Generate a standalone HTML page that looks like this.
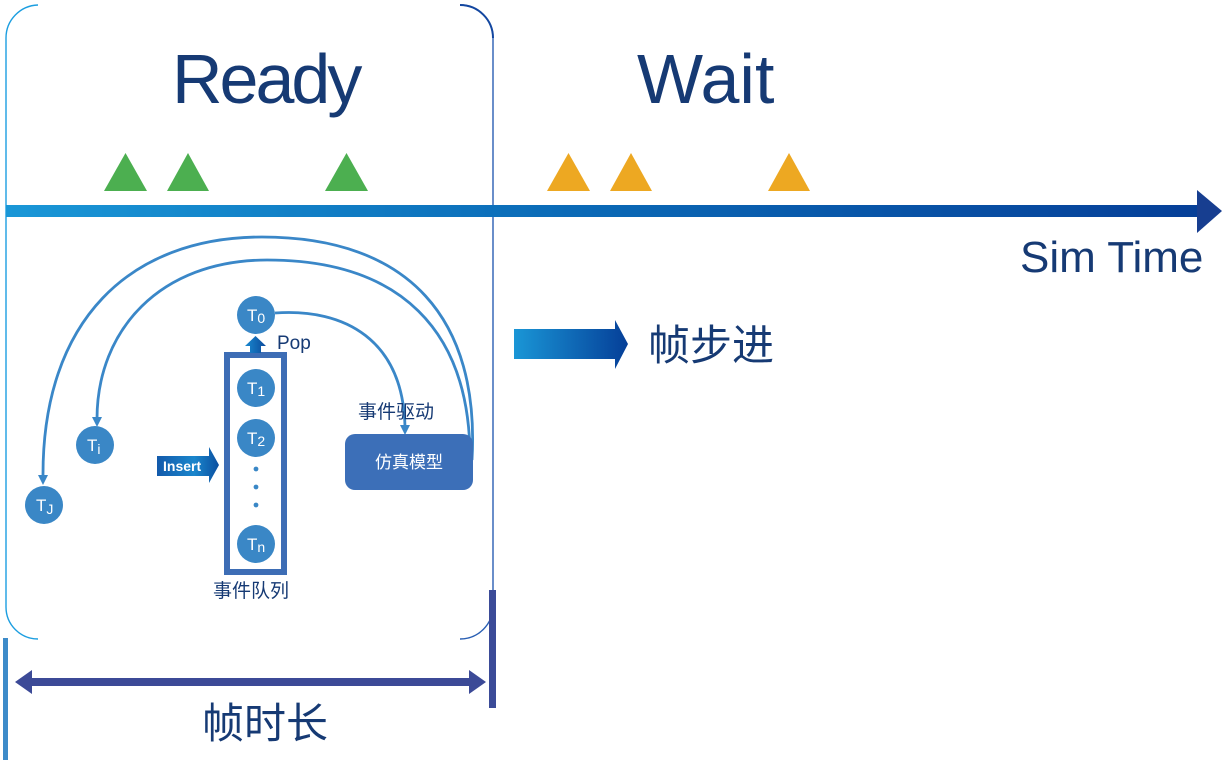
<!DOCTYPE html>
<html>
<head>
<meta charset="utf-8">
<style>
html,body{margin:0;padding:0;background:#fff;}
svg{display:block;}
text{font-family:"Liberation Sans","Noto Sans CJK SC",sans-serif;}
</style>
</head>
<body>
<svg width="1228" height="760" viewBox="0 0 1228 760" xmlns="http://www.w3.org/2000/svg">
<defs>
<linearGradient id="tl" x1="0" y1="0" x2="1" y2="0">
<stop offset="0" stop-color="#1a97d7"/>
<stop offset="0.45" stop-color="#0b6cb8"/>
<stop offset="1" stop-color="#063f98"/>
</linearGradient>
<linearGradient id="bx" x1="0" y1="0" x2="1" y2="0">
<stop offset="0" stop-color="#1c9ee0"/>
<stop offset="1" stop-color="#1d54a8"/>
</linearGradient>
<linearGradient id="step" x1="0" y1="0" x2="1" y2="0">
<stop offset="0" stop-color="#1a96d6"/>
<stop offset="1" stop-color="#053f98"/>
</linearGradient>
<linearGradient id="ins" x1="0" y1="0" x2="1" y2="0">
<stop offset="0" stop-color="#135aab"/>
<stop offset="0.6" stop-color="#1a86cc"/>
<stop offset="1" stop-color="#0b4fa0"/>
</linearGradient>
<linearGradient id="pop" x1="0" y1="0" x2="1" y2="0">
<stop offset="0" stop-color="#1a8ad0"/>
<stop offset="1" stop-color="#0b4a9c"/>
</linearGradient>
</defs>

<!-- Ready box (sides and corners only) -->
<path d="M38 5 A33 33 0 0 0 6 38 L6 607 A32 32 0 0 0 38 639" fill="none" stroke="#1c9ee0" stroke-width="1.4"/>
<path d="M460 5 A33 33 0 0 1 493 38 L493 606 A33 33 0 0 1 460 639" fill="none" stroke="#2a5fb3" stroke-width="1.4"/>
<path d="M460 5 A33 33 0 0 1 493 38" fill="none" stroke="#1347a0" stroke-width="2"/>

<!-- titles -->
<text x="172" y="103" font-size="70" fill="#163a74" letter-spacing="-3">Ready</text>
<text x="637" y="103" font-size="70" fill="#163a74">Wait</text>

<!-- green triangles -->
<polygon points="104,191 125.5,153 147,191" fill="#4caf50"/>
<polygon points="167,191 188,153 209,191" fill="#4caf50"/>
<polygon points="325,191 346.5,153 368,191" fill="#4caf50"/>
<!-- orange triangles -->
<polygon points="547,191 568.5,153 590,191" fill="#eda822"/>
<polygon points="610,191 631,153 652,191" fill="#eda822"/>
<polygon points="768,191 789,153 810,191" fill="#eda822"/>

<!-- timeline -->
<rect x="6" y="205" width="1193" height="12" fill="url(#tl)"/>
<polygon points="1197,190 1222,211 1197,233" fill="#173e90"/>
<text x="1020" y="272" font-size="44" fill="#163a74">Sim Time</text>

<!-- frame step arrow -->
<polygon points="514,329 615,329 615,320 628,344 615,369 615,359 514,359" fill="url(#step)"/>
<text x="648" y="360" font-size="42" fill="#163a74">帧步进</text>

<!-- arcs -->
<g fill="none" stroke="#3a87c8" stroke-width="2.8">
<path d="M472 460 C480 320, 410 237, 262 237 C130 237, 42 320, 43 477"/>
<path d="M470 458 C470 330, 400 260, 267 260 C160 260, 97 330, 97 419"/>
<path d="M275 313 C345 308, 403 340, 405 427"/>
</g>
<polygon points="38,475 48,475 43,485" fill="#3a87c8"/>
<polygon points="92,417 102,417 97,427" fill="#3a87c8"/>
<polygon points="400,425 410,425 405,435" fill="#3a87c8"/>

<!-- queue -->
<rect x="227" y="355" width="57" height="217" fill="none" stroke="#3d6db5" stroke-width="6"/>
<polygon points="245,346 255.5,336 266,346 261,346 261,353 250,353 250,346" fill="url(#pop)"/>
<text x="277" y="349" font-size="19" fill="#163a74">Pop</text>

<!-- circles -->
<g fill="#3a87c6">
<circle cx="256" cy="315" r="19"/>
<circle cx="256" cy="388" r="19"/>
<circle cx="256" cy="438" r="19"/>
<circle cx="256" cy="544" r="19"/>
<circle cx="95" cy="445" r="19"/>
<circle cx="44" cy="505" r="19"/>
<circle cx="256" cy="469" r="2.4"/>
<circle cx="256" cy="487" r="2.4"/>
<circle cx="256" cy="505" r="2.4"/>
</g>
<g fill="#ffffff" font-size="17">
<text x="247" y="321">T<tspan font-size="14" dy="2">0</tspan></text>
<text x="247" y="394">T<tspan font-size="14" dy="2">1</tspan></text>
<text x="247" y="444">T<tspan font-size="14" dy="2">2</tspan></text>
<text x="247" y="550">T<tspan font-size="14" dy="2">n</tspan></text>
<text x="87" y="451">T<tspan font-size="14" dy="3">i</tspan></text>
<text x="36" y="511">T<tspan font-size="14" dy="3">J</tspan></text>
</g>

<!-- insert arrow -->
<polygon points="157,456 209,456 209,447 219,465 209,483 209,476 157,476" fill="url(#ins)"/>
<text x="163" y="471" font-size="14" fill="#ffffff" font-weight="bold">Insert</text>

<text x="213" y="597" font-size="19" fill="#163a74">事件队列</text>

<!-- model -->
<text x="358" y="418" font-size="19" fill="#163a74">事件驱动</text>
<rect x="345" y="434" width="128" height="56" rx="10" ry="10" fill="#3c6fb8"/>
<text x="409" y="468" font-size="17" fill="#ffffff" text-anchor="middle">仿真模型</text>

<!-- frame duration -->
<rect x="3" y="638" width="5" height="122" fill="#3d8bc9"/>
<rect x="489" y="590" width="7" height="118" fill="#3b4b98"/>
<rect x="30" y="678" width="440" height="8" fill="#3c4a97"/>
<polygon points="15,682 32,670 32,694" fill="#3c4a97"/>
<polygon points="486,682 469,670 469,694" fill="#3c4a97"/>
<text x="202" y="738" font-size="42" fill="#163a74">帧时长</text>
</svg>
</body>
</html>
